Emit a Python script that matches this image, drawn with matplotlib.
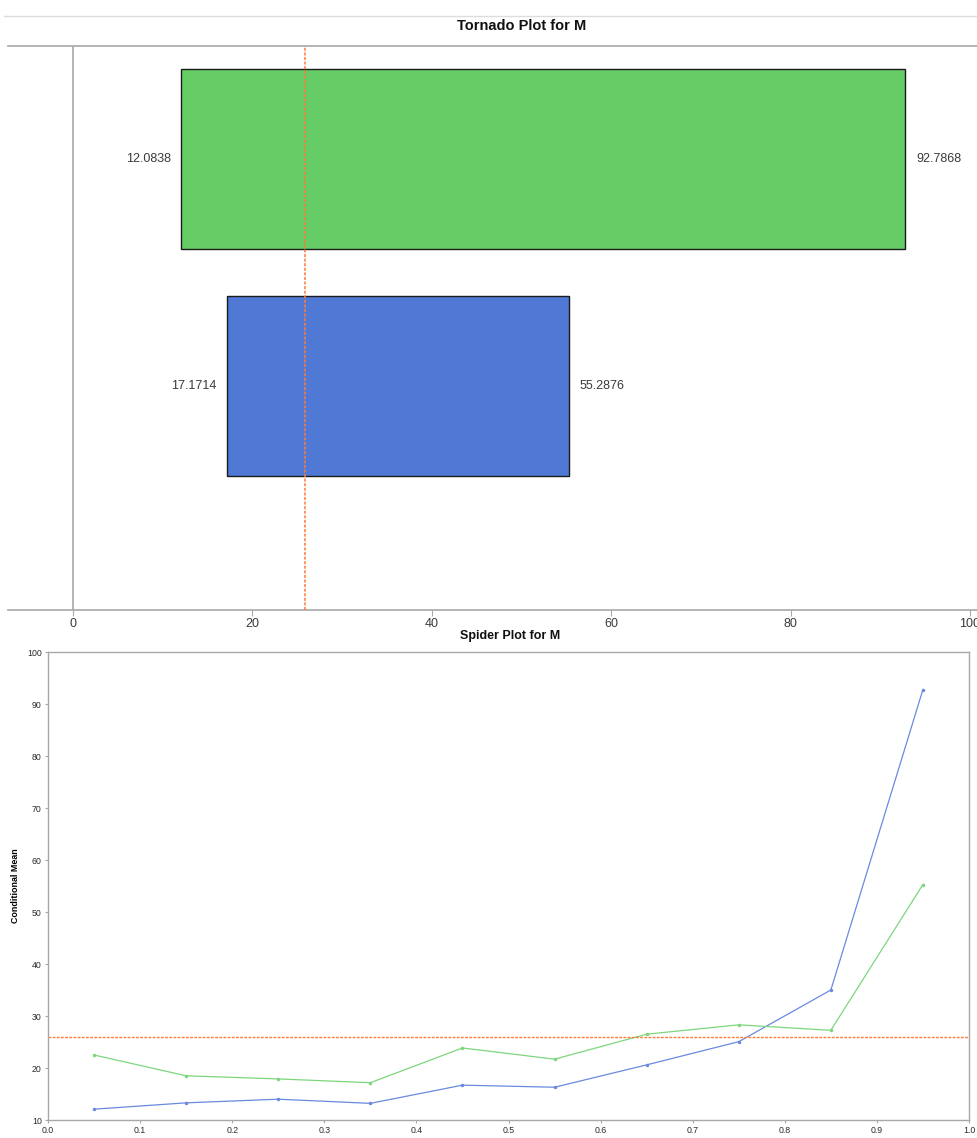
import matplotlib
matplotlib.use("Agg")
import matplotlib.pyplot as plt
from matplotlib.lines import Line2D

plt.rcParams['font.family'] = ['Liberation Sans', 'DejaVu Sans']

# Tornado bars (low / high conditional means)
tornado_low = [12.0838, 17.1714]
tornado_high = [92.7868, 55.2876]
tornado_colors = ["#66CC66", "#5079D6"]
baseline = 25.9
tornado_ticks = [0, 20, 40, 60, 80, 100]

# Spider curves
spider_x = [0.05, 0.15, 0.25, 0.35, 0.45, 0.55, 0.65, 0.75, 0.85, 0.95]
spider_blue = [12.0838, 13.3, 14.0, 13.2, 16.7, 16.3, 20.6, 25.06, 35.0, 92.7868]
spider_green = [22.5, 18.5, 17.9, 17.1714, 23.85, 21.7, 26.5, 28.3, 27.25, 55.2876]
spider_xticks = [0.0, 0.1, 0.2, 0.3, 0.4, 0.5, 0.6, 0.7, 0.8, 0.9, 1.0]
spider_yticks = [10, 20, 30, 40, 50, 60, 70, 80, 90, 100]

W, H = 977, 1138
fig = plt.figure(figsize=(W / 100, H / 100), dpi=100)


def px_axes(x0, y0, x1, y1):
    return fig.add_axes([x0 / W, 1 - y1 / H, (x1 - x0) / W, (y1 - y0) / H])


grey = "#A8A8A8"
txt = "#3A3A3A"
ref_color = "#FF7A3A"

# ---------------- Tornado plot ----------------
ax = px_axes(8, 46, 977, 610)
ppu = (970 - 73) / 100.0
ax.set_xlim((8 - 73) / ppu, (977 - 73) / ppu)
pos = [0, 1]
bar_h = 180 / 227
ax.set_ylim(1 + 224 / 227, -113 / 227)
for p, lo, hi, c in zip(pos, tornado_low, tornado_high, tornado_colors):
    ax.barh(p, hi - lo, left=lo, height=bar_h, color=c, edgecolor="#1a1a1a", linewidth=1.0, zorder=2)
    ax.text(lo - 1.2, p, f"{lo:g}", ha="right", va="center", fontsize=9, color=txt)
    ax.text(hi + 1.2, p, f"{hi:g}", ha="left", va="center", fontsize=9, color=txt)
ax.axvline(0, color=grey, lw=1.2, zorder=1)
ax.axvline(baseline, color=ref_color, lw=1.1, ls=(0, (2, 1)), zorder=3)
for s in ["left", "right"]:
    ax.spines[s].set_visible(False)
for s in ["top", "bottom"]:
    ax.spines[s].set_color(grey)
    ax.spines[s].set_linewidth(1.2)
ax.set_xticks(tornado_ticks)
ax.tick_params(axis="x", length=4, color=grey, labelsize=9, labelcolor=txt, pad=2)
ax.set_yticks([])
fig.add_artist(Line2D([4 / W, 1], [1 - 16 / H, 1 - 16 / H], color="#DDDDDD", lw=1.0))
fig.text(522 / W, 1 - 26 / H, "Tornado Plot for M", ha="center", va="center",
         fontsize=10.5, fontweight="bold", color="#111111")

# ---------------- Spider plot ----------------
ax2 = px_axes(48, 652, 969, 1120)
ax2.plot(spider_x, spider_blue, color="#6A8AE0", lw=0.9, marker="o", ms=1.5)
ax2.plot(spider_x, spider_green, color="#7DD67D", lw=0.9, marker="o", ms=1.5)
ax2.axhline(baseline, color=ref_color, lw=1.0, ls=(0, (2, 1)))
ax2.set_xlim(0, 1)
ax2.set_ylim(10, 100)
ax2.set_xticks(spider_xticks)
ax2.set_xticklabels([f"{v:.1f}" for v in spider_xticks])
ax2.set_yticks(spider_yticks)
for s in ax2.spines.values():
    s.set_color(grey)
    s.set_linewidth(1.0)
ax2.tick_params(axis="both", length=2.5, color=grey, labelsize=6.3, labelcolor="#2A2A2A", pad=2)
ax2.set_ylabel("Conditional Mean", fontsize=6.4, fontweight="bold", labelpad=5)
fig.text(510 / W, 1 - 636 / H, "Spider Plot for M", ha="center", va="center",
         fontsize=9, fontweight="bold", color="#111111")

fig.savefig("out.png", dpi=100)
